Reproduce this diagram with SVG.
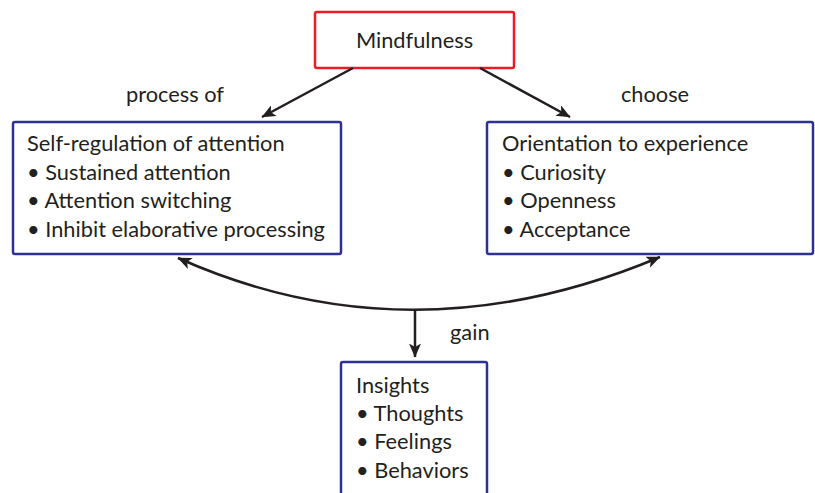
<svg xmlns="http://www.w3.org/2000/svg" width="815" height="493" viewBox="0 0 815 493">
<defs>
<marker id="ah" viewBox="0 0 14 12" refX="13.5" refY="6" markerWidth="14" markerHeight="12" markerUnits="userSpaceOnUse" orient="auto-start-reverse">
<path d="M0,0 L14,6 L0,12 L3.5,6 Z" fill="#231F20"/>
</marker>
<style>
text{font-family:Lato,"Open Sans","Liberation Sans",sans-serif;font-size:21.8px;fill:#231F20}
.red{fill:#fff;stroke:#ED1C24;stroke-width:2.5}
.blue{fill:#fff;stroke:#2E3192;stroke-width:2.5}
.conn path{fill:none;stroke:#231F20;stroke-width:2.5}
</style>
</defs>
<rect width="815" height="493" fill="#fff"/>
<g id="mindfulness">
<rect class="red" x="315" y="12" width="199" height="56" rx="2"/>
<text x="414.5" y="48" text-anchor="middle">Mindfulness</text>
</g>
<g id="self-regulation">
<rect class="blue" x="13" y="122" width="328" height="132" rx="2"/>
<text x="27" y="151">Self-regulation of attention</text>
<text x="27" y="180">• Sustained attention</text>
<text x="27" y="208">• Attention switching</text>
<text x="27" y="237">• Inhibit elaborative processing</text>
</g>
<g id="orientation">
<rect class="blue" x="487" y="122" width="326" height="132" rx="2"/>
<text x="502" y="151">Orientation to experience</text>
<text x="502" y="180">• Curiosity</text>
<text x="502" y="208">• Openness</text>
<text x="502" y="237">• Acceptance</text>
</g>
<g id="insights">
<rect class="blue" x="341" y="362" width="146" height="140" rx="2"/>
<text x="356" y="393">Insights</text>
<text x="356" y="421">• Thoughts</text>
<text x="356" y="449">• Feelings</text>
<text x="356" y="478">• Behaviors</text>
</g>
<g class="conn" id="connectors">
<path d="M353,68 L262,117" marker-end="url(#ah)"/>
<path d="M480,68 L570,117" marker-end="url(#ah)"/>
<path d="M178,258 Q411,362 660,257" marker-start="url(#ah)" marker-end="url(#ah)"/>
<path d="M415,310 L415,357" marker-end="url(#ah)"/>
<text x="175" y="102" text-anchor="middle">process of</text>
<text x="655" y="102" text-anchor="middle">choose</text>
<text x="450" y="340">gain</text>
</g>
</svg>
